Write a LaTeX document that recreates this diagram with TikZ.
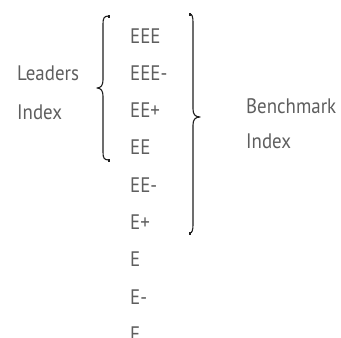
\documentclass[tikz,border=0pt]{standalone}
\usepackage{fontspec}
\setmainfont{PT Sans}[FakeStretch=0.9]
\definecolor{txt}{HTML}{5E5E5E}
\definecolor{brc}{HTML}{1E1E1E}
\begin{document}
\begin{tikzpicture}[x=1pt,y=-1pt,
  lbl/.style={anchor=base west,inner sep=0pt,text=txt,font=\fontsize{21}{24}\selectfont},
  bracepath/.style={draw=brc,line width=1.1pt,line cap=round,line join=round}]
\useasboundingbox (0,0) rectangle (341,338);
\node[lbl] (r0) at (130,43) {EEE};
\node[lbl] (r1) at (130,80.3) {EEE-};
\node[lbl] (r2) at (130,117.6) {EE+};
\node[lbl] (r3) at (130,154.9) {EE};
\node[lbl] (r4) at (130,192.2) {EE-};
\node[lbl] (r5) at (130,229.5) {E+};
\node[lbl] (r6) at (130,266.8) {E};
\node[lbl] (r7) at (130,304.1) {E-};
\node[lbl] (r8) at (130,341.4) {F};
\node[lbl] (l1) at (17,80) {Leaders};
\node[lbl] (l2) at (17,119.5) {Index};
\node[lbl] (b1) at (246,113) {Benchmark};
\node[lbl] (b2) at (246,148) {Index};
% left brace
\draw[bracepath] (109,16) .. controls (104,16) and (103,18) .. (103,24)
  -- (103,80) .. controls (103,85) and (101,88) .. (97,88)
  .. controls (101,88) and (103,91) .. (103,96)
  -- (103,152) .. controls (103,158) and (104,160) .. (109,160);
\fill[brc] (107.5,14.5) rectangle (110,17.5);
\fill[brc] (107.5,158.5) rectangle (110,161.5);
% right brace
\draw[bracepath] (190,14) .. controls (192,14) and (193,17) .. (193,22)
  -- (193,109) .. controls (193,114) and (195,117) .. (200,117)
  .. controls (195,117) and (193,120) .. (193,125)
  -- (193,225) .. controls (193,230) and (192,233) .. (190,233);
\fill[brc] (188.5,12.5) rectangle (191,15.5);
\fill[brc] (188.5,231.5) rectangle (191,234.5);
\end{tikzpicture}
\end{document}
